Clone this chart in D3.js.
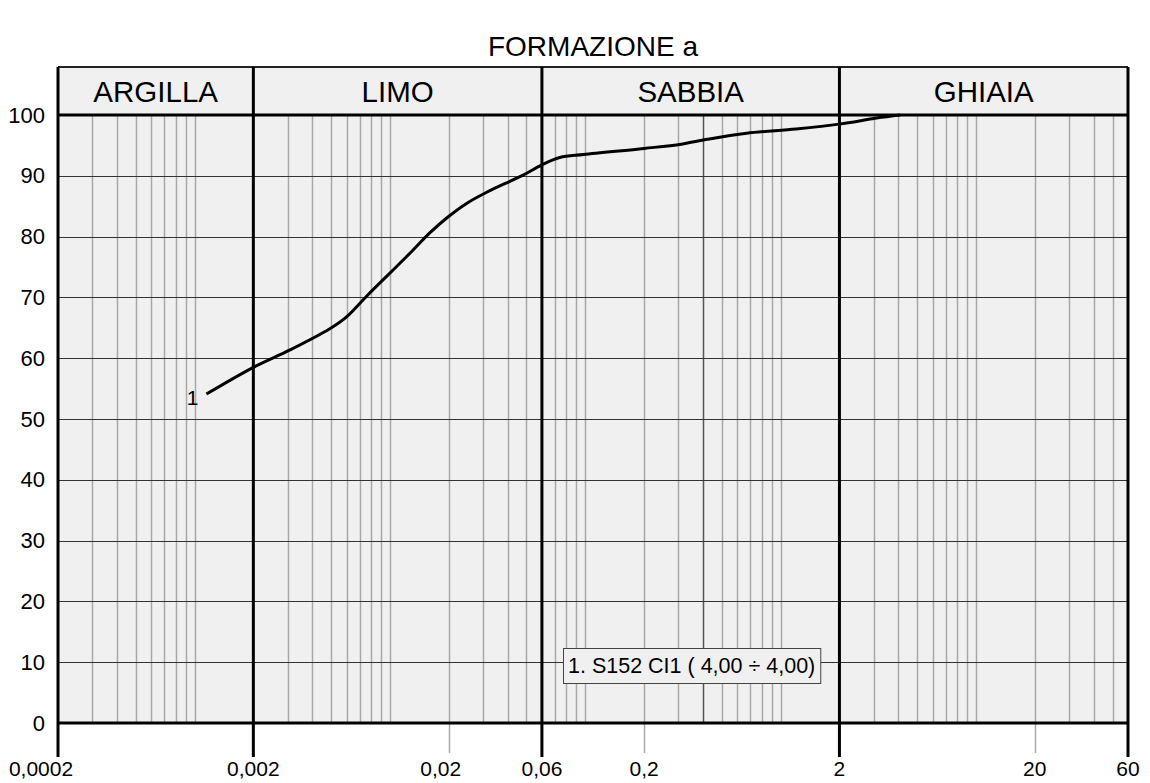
<!DOCTYPE html>
<html>
<head>
<meta charset="utf-8">
<script src="https://cdn.jsdelivr.net/npm/d3@7"></script>
<style>
  body { margin: 0; background: #fff; }
  text { font-family: "Liberation Sans", Arial, sans-serif; fill: #000; }
</style>
</head>
<body>
<div id="chart"></div>
<script>
// grain size curve, sample 1
var diameters = [0.00115, 0.002, 0.0031, 0.0049, 0.006, 0.0076, 0.01, 0.0127, 0.016, 0.0196,
                 0.0248, 0.0313, 0.048, 0.06, 0.074, 0.098, 0.2, 0.31, 0.42, 0.67, 1.2, 2, 3.1, 4.1];
var passing = [54.1, 58.5, 61.4, 64.8, 66.8, 70.2, 74.0, 77.3, 80.6, 83.1,
               85.5, 87.3, 90.1, 91.8, 93.0, 93.5, 94.5, 95.2, 96.0, 97.0, 97.7, 98.5, 99.5, 100];

var zoneNames = ["ARGILLA", "LIMO", "SABBIA", "GHIAIA"];
var zoneBounds = [0.0002, 0.002, 0.06, 2, 60];

var xTickValues = [0.0002, 0.002, 0.02, 0.06, 0.2, 2, 20, 60];
var xTickLabels = ["0,0002", "0,002", "0,02", "0,06", "0,2", "2", "20", "60"];
var yTickValues = [0, 10, 20, 30, 40, 50, 60, 70, 80, 90, 100];

var sampleLabel = "1";
var legendText = "1. S152 CI1 ( 4,00 \u00f7 4,00)";
var title = "FORMAZIONE a";

var W = 1150, H = 783;
var margin = { top: 115, right: 22, bottom: 60, left: 58 };
var headerH = 48;

var svg = d3.select("#chart").append("svg")
    .attr("width", W)
    .attr("height", H);

var x = d3.scaleLog()
    .domain([zoneBounds[0], zoneBounds[zoneBounds.length - 1]])
    .range([margin.left, W - margin.right]);

var y = d3.scaleLinear()
    .domain([0, 100])
    .range([H - margin.bottom, margin.top]);

var x0 = x.range()[0], x1 = x.range()[1];
var yTop = y(100), yBot = y(0), hTop = yTop - headerH;

// title
svg.append("text")
    .attr("x", (x0 + x1) / 2)
    .attr("y", 56)
    .attr("text-anchor", "middle")
    .style("font-size", "28px")
    .text(title);

// background of header + plot
svg.append("rect")
    .attr("x", x0).attr("y", hTop)
    .attr("width", x1 - x0).attr("height", yBot - hTop)
    .attr("fill", "#f0f0f0");

// minor vertical gridlines
var minor = x.ticks().filter(function (d) {
    return zoneBounds.every(function (b) { return Math.abs(b - d) / b > 1e-6; });
});
svg.append("g").selectAll("line")
    .data(minor)
    .enter().append("line")
    .attr("x1", function (d) { return Math.round(x(d)) + 0.5; })
    .attr("x2", function (d) { return Math.round(x(d)) + 0.5; })
    .attr("y1", yTop).attr("y2", yBot)
    .attr("stroke", function (d) { return Math.abs(d - 0.4) < 1e-9 ? "#555" : "#a8a8a8"; })
    .attr("stroke-width", 1.5);

// horizontal gridlines
svg.append("g").selectAll("line")
    .data(yTickValues.filter(function (d) { return d > 0 && d < 100; }))
    .enter().append("line")
    .attr("x1", x0).attr("x2", x1)
    .attr("y1", function (d) { return Math.round(y(d)) + 0.5; })
    .attr("y2", function (d) { return Math.round(y(d)) + 0.5; })
    .attr("stroke", "#333")
    .attr("stroke-width", 1.2);

// small tick marks below the axis for non-boundary labels
svg.append("g").selectAll("line")
    .data(xTickValues.filter(function (d) { return zoneBounds.indexOf(d) < 0; }))
    .enter().append("line")
    .attr("x1", function (d) { return Math.round(x(d)) + 0.5; })
    .attr("x2", function (d) { return Math.round(x(d)) + 0.5; })
    .attr("y1", yBot).attr("y2", yBot + 30)
    .attr("stroke", "#a8a8a8")
    .attr("stroke-width", 1.5);

// header top + bottom lines, x axis line
svg.append("line")
    .attr("x1", x0).attr("x2", x1).attr("y1", hTop).attr("y2", hTop)
    .attr("stroke", "#222").attr("stroke-width", 2);
svg.append("line")
    .attr("x1", x0).attr("x2", x1).attr("y1", yTop).attr("y2", yTop)
    .attr("stroke", "#000").attr("stroke-width", 3);
svg.append("line")
    .attr("x1", x0).attr("x2", x1).attr("y1", yBot).attr("y2", yBot)
    .attr("stroke", "#000").attr("stroke-width", 3);

// zone boundaries (thick)
svg.append("g").selectAll("line")
    .data(zoneBounds)
    .enter().append("line")
    .attr("x1", function (d) { return x(d); })
    .attr("x2", function (d) { return x(d); })
    .attr("y1", hTop).attr("y2", yBot + 34)
    .attr("stroke", "#000")
    .attr("stroke-width", 3);

// zone names
svg.append("g").selectAll("text")
    .data(zoneNames)
    .enter().append("text")
    .attr("x", function (d, i) { return (x(zoneBounds[i]) + x(zoneBounds[i + 1])) / 2; })
    .attr("y", hTop + 35)
    .attr("text-anchor", "middle")
    .style("font-size", "29.5px")
    .text(function (d) { return d; });

// y labels
svg.append("g").selectAll("text")
    .data(yTickValues)
    .enter().append("text")
    .attr("x", x0 - 13)
    .attr("y", function (d) { return y(d) + 7.5; })
    .attr("text-anchor", "end")
    .style("font-size", "22px")
    .text(function (d) { return d; });

// x labels
svg.append("g").selectAll("text")
    .data(xTickValues)
    .enter().append("text")
    .attr("x", function (d, i) { return x(d) + (i === 0 ? -17 : i === 2 ? -8 : 0); })
    .attr("y", yBot + 53)
    .attr("text-anchor", "middle")
    .style("font-size", "21px")
    .text(function (d, i) { return xTickLabels[i]; });

// curve
var pts = diameters.map(function (d, i) { return [d, passing[i]]; });
svg.append("path")
    .datum(pts)
    .attr("fill", "none")
    .attr("stroke", "#000")
    .attr("stroke-width", 3)
    .attr("stroke-linejoin", "round")
    .attr("d", d3.line()
        .x(function (d) { return x(d[0]); })
        .y(function (d) { return y(d[1]); })
        .curve(d3.curveCatmullRom));

svg.append("text")
    .attr("x", x(diameters[0]) - 8)
    .attr("y", y(passing[0]) + 11)
    .attr("text-anchor", "end")
    .style("font-size", "21px")
    .text(sampleLabel);

// legend box
var lg = svg.append("g").attr("transform", "translate(563,648)");
var lt = lg.append("text")
    .attr("x", 5).attr("y", 25)
    .style("font-size", "21.5px")
    .text(legendText);
var bb = lt.node().getBBox();
lg.insert("rect", "text")
    .attr("x", 0.5).attr("y", 0.5)
    .attr("width", bb.width + 10).attr("height", 35)
    .attr("fill", "#f0f0f0")
    .attr("stroke", "#444")
    .attr("stroke-width", 1);
</script>
</body>
</html>
